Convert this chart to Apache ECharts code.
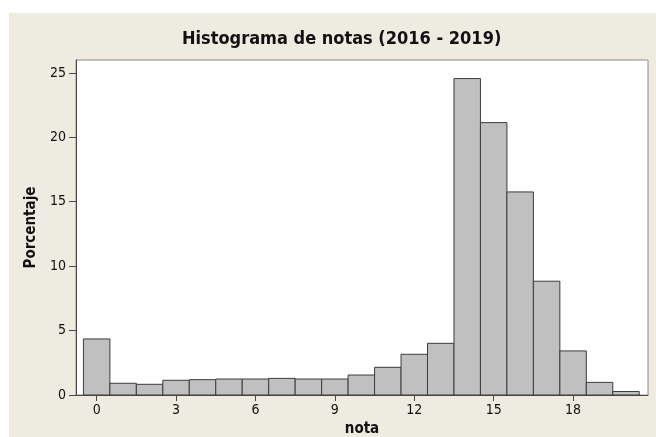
<!DOCTYPE html>
<html>
<head>
<meta charset="utf-8">
<title>Histograma de notas</title>
<script src="https://cdn.jsdelivr.net/npm/echarts@6/dist/echarts.min.js"></script>
<style>
    html, body { margin: 0; padding: 0; background: #fff; }
    #chart { position: absolute; left: 9px; top: 13px; width: 647px; height: 424px; background: #eeebe1; }
</style>
</head>
<body>
<div id="chart"></div>
<script>
// notas (centro de cada clase) y porcentaje de alumnos
var notas = [0, 1, 2, 3, 4, 5, 6, 7, 8, 9, 10, 11, 12, 13, 14, 15, 16, 17, 18, 19, 20];
var porcentajes = [4.35, 0.91, 0.83, 1.14, 1.19, 1.24, 1.24, 1.29, 1.24, 1.24, 1.55, 2.15, 3.16, 4.01, 24.56, 21.14, 15.76, 8.83, 3.42, 0.98, 0.27];
var xTicks = [0, 3, 6, 9, 12, 15, 18];
var yTicks = [0, 5, 10, 15, 20, 25];
var anchoClase = 1;

(function() {
    var font = "'DejaVu Sans Condensed', 'DejaVu Sans', sans-serif",
        chart = echarts.init(document.getElementById("chart"), null, { renderer: "canvas" });

    var datos = notas.map(function(n, i) {
        return [n, porcentajes[i]];
    });

    var option = {
        animation: false,
        title: {
            text: "Histograma de notas (2016 - 2019)",
            left: 173,
            top: 17,
            padding: 0,
            textStyle: { fontFamily: font, fontSize: 18, fontWeight: "bold", color: "#111" }
        },
        grid: {
            left: 67,
            top: 47,
            right: 8,
            bottom: 42,
            outerBoundsMode: "none",
            show: true,
            backgroundColor: "#fff",
            borderColor: "#8a8a8a",
            borderWidth: 1
        },
        xAxis: {
            type: "value",
            min: -0.78,
            max: 20.83,
            name: "nota",
            nameLocation: "middle",
            nameGap: 27,
            nameTextStyle: { fontFamily: font, fontSize: 15, fontWeight: "bold", color: "#111" },
            splitLine: { show: false },
            axisLine: { onZero: false, lineStyle: { color: "#4a4a4a", width: 1 } },
            axisTick: { customValues: xTicks, length: 6, lineStyle: { color: "#4a4a4a" } },
            axisLabel: { customValues: xTicks, margin: 8, fontFamily: font, fontSize: 14, color: "#111" }
        },
        yAxis: {
            type: "value",
            min: 0,
            max: 26,
            name: "Porcentaje",
            nameLocation: "middle",
            nameGap: 36,
            nameRotate: 90,
            nameTextStyle: { fontFamily: font, fontSize: 15, fontWeight: "bold", color: "#111" },
            splitLine: { show: false },
            axisLine: { show: true, onZero: false, lineStyle: { color: "#4a4a4a", width: 1 } },
            axisTick: { show: true, customValues: yTicks, length: 7, lineStyle: { color: "#4a4a4a" } },
            axisLabel: { customValues: yTicks, margin: 10, fontFamily: font, fontSize: 14, color: "#111" }
        },
        series: [{
            type: "custom",
            data: datos,
            renderItem: function(params, api) {
                var x = api.value(0),
                    y = api.value(1),
                    a = api.coord([x - anchoClase / 2, y]),
                    b = api.coord([x + anchoClase / 2, 0]);
                return {
                    type: "rect",
                    shape: { x: a[0], y: a[1], width: b[0] - a[0], height: b[1] - a[1] },
                    style: { fill: "#c0c0c0", stroke: "#3c3c3c", lineWidth: 1 }
                };
            }
        }]
    };

    chart.setOption(option);
}());
</script>
</body>
</html>
